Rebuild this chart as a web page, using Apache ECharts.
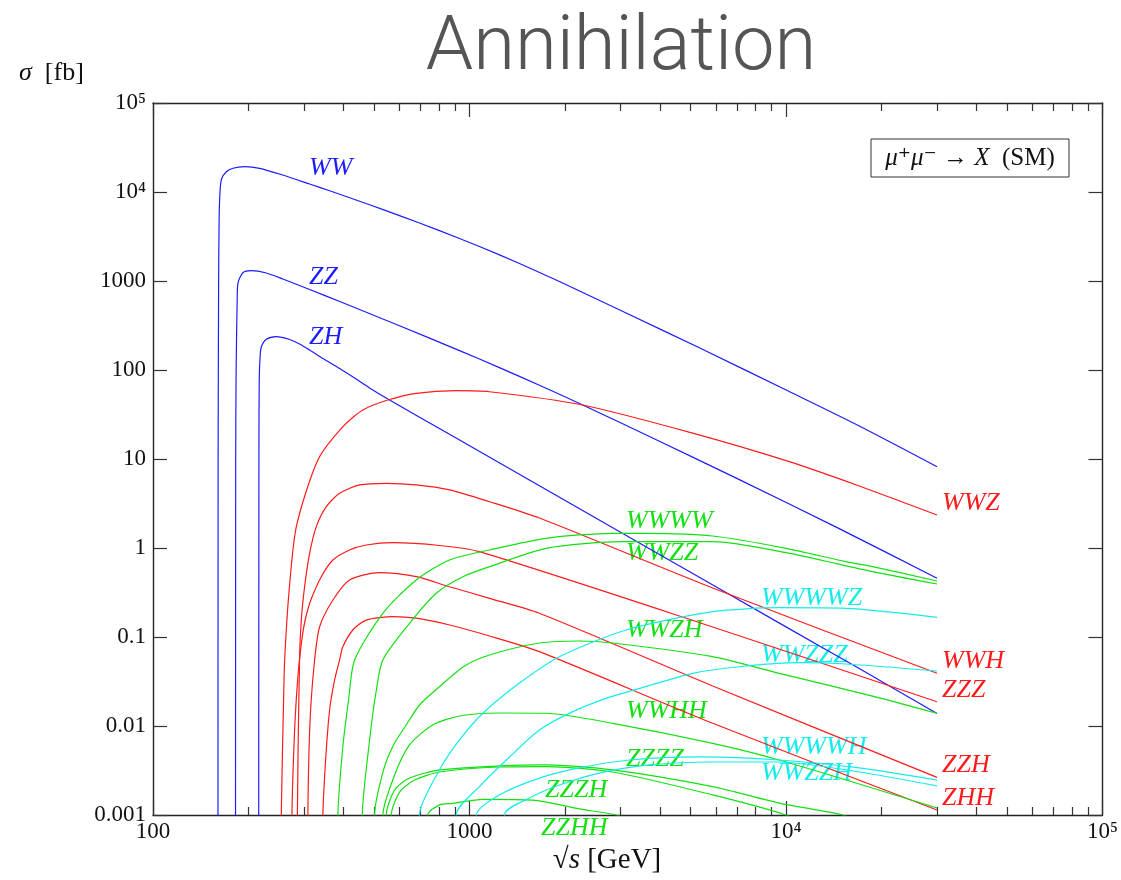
<!DOCTYPE html>
<html>
<head>
<meta charset="utf-8">
<script src="https://cdn.jsdelivr.net/npm/echarts@6/dist/echarts.min.js"></script>
<style>
  html, body { margin: 0; padding: 0; background: #ffffff; }
  #chart { width: 1121px; height: 880px; }
</style>
</head>
<body>
<div id="chart"></div>
<script>
// Cross sections sigma [fb] versus sqrt(s) [GeV] for mu+ mu- -> X in the Standard Model.
// Each curve: [sqrt(s), sigma]

// two-boson final states
const WW = [[160.4,1e-5],[160.6,10],[161.2,1000],[161.8,5000],[162.8,10000],[164.6,14000],[170.5,16900],[178.9,18500],[194.8,19250],[217.3,18460],[256.7,15520],[312.5,12300],[361.4,10320],[397.2,9182],[483.4,7180],[601,5429],[803.8,3684],[1075,2441],[1439,1572],[1924,987],[3125,437],[5323,177.6],[10240,57.3],[17040,23.5],[30000,8.2]];
const ZZ = [[182.2,1e-5],[182.5,10],[183.1,100],[184.5,612],[185.5,948],[192.4,1240],[204.5,1306],[228.1,1230],[257.3,1053],[312.5,803],[398,569],[601,314],[930,165.2],[1243,106.4],[1663,67.5],[2279,40.4],[3981,15.85],[7121,5.87],[14730,1.652],[30000,0.457]];
const ZH = [[215.7,1e-5],[216.1,10],[216.6,77.2],[218,143.7],[220,182.7],[228.1,221.3],[245.3,236.7],[270.1,220.2],[290.4,196],[312.5,167.8],[344.3,134.7],[388.6,104],[433.5,81.3],[483.4,62.8],[552.1,47.2],[864.8,18.95],[1663,5.0],[3702,0.982],[10000,0.1299],[17040,0.04415],[30000,0.0138]];

// three-boson final states
const WWZ = [[252.5,1e-5],[254.3,0.001],[258.6,0.0196],[260.6,0.0551],[268.8,0.31],[283.7,1.74],[331.9,9.75],[398.1,23.1],[460.4,35.5],[552.1,46.0],[678.9,54.7],[907.8,58.5],[1157,57.0],[2279,40.4],[5071,19.5],[10240,9.33],[17040,4.97],[30000,2.35]];
const WWH = [[285.6,1e-5],[285.9,0.001],[290.4,0.0551],[294.1,0.155],[301.3,0.367],[312.5,0.872],[328.1,1.74],[352.8,2.91],[388.6,4.12],[449.5,5.11],[545.8,5.33],[678.9,5.11],[864.8,4.49],[1157,3.31],[1663,2.17],[5866,0.355],[30000,0.0391]];
const ZZZ = [[273.8,1e-5],[274.8,0.001],[280.2,0.00902],[286.4,0.0329],[292.6,0.0715],[299.1,0.126],[306.8,0.191],[317,0.274],[340.2,0.476],[370.2,0.733],[417.8,0.95],[471.8,1.08],[572.6,1.147],[803.8,1.067],[1075,0.909],[5866,0.1296],[30000,0.01875]];
const ZZH = [[307.7,1e-5],[308.6,0.001],[313.6,0.01167],[324.1,0.0551],[336.1,0.1305],[370.2,0.2604],[417.8,0.437],[519.6,0.528],[678.9,0.476],[864.8,0.367],[1157,0.272],[1663,0.1846],[5866,0.02815],[30000,0.00265]];
const ZHH = [[343.2,1e-5],[344.3,0.001],[351.1,0.00415],[361.4,0.01514],[374.8,0.0329],[388.6,0.0551],[398,0.0778],[428,0.1199],[471.8,0.155],[572.6,0.1692],[678.9,0.1626],[864.8,0.1364],[1157,0.1026],[1663,0.0684],[5866,0.01072],[30000,0.001138]];

// four-boson final states
const WWWW = [[381.6,1e-5],[383.8,0.001],[398,0.00585],[414.9,0.0196],[433.5,0.0551],[532.4,0.1846],[678.9,0.437],[864.8,0.733],[1157,0.95],[1747,1.285],[2835,1.463],[3614,1.463],[5866,1.364],[10000,0.992],[15470,0.702],[18770,0.617],[30000,0.426]];
const WWZZ = [[455.7,1e-5],[458.4,0.001],[483.5,0.00697],[505,0.0223],[532.4,0.0551],[646.5,0.1425],[785.1,0.31],[952.6,0.476],[1157,0.617],[1747,0.992],[3049,1.177],[5866,1.177],[10000,0.886],[18770,0.542],[30000,0.394]];
const WWZH = [[498.5,1e-5],[501.2,0.001],[535.1,0.00321],[575.4,0.00612],[631.1,0.01026],[695.1,0.01722],[803.8,0.02764],[964.3,0.04723],[1157,0.0628],[1663,0.0856],[2225,0.0902],[2835,0.0856],[5866,0.0601],[9526,0.0391],[18770,0.0217],[30000,0.0139]];
const WWHH = [[529.3,1e-5],[532.4,0.001],[579.9,0.00281],[646.5,0.00612],[764.2,0.01026],[929.9,0.01296],[1243,0.014],[1747,0.0139],[2835,0.01072],[5866,0.00639],[9526,0.00415],[30000,0.0012]];
const ZZZZ = [[543,1e-5],[545.8,0.001],[579.9,0.00191],[646.5,0.0026],[803.8,0.00321],[1243,0.00356],[1747,0.00365],[2835,0.00321],[5866,0.00208],[9526,0.00136],[15090,0.001],[18320,0.00077]];
const ZZZH = [[561,1e-5],[566,0.001],[601.3,0.00181],[670.7,0.00247],[803.8,0.00304],[1243,0.00346],[1747,0.00349],[2835,0.00304],[5866,0.00168],[10000,0.001],[12740,0.00068]];
const ZZHH = [[734.2,1e-5],[738.5,0.001],[803.8,0.0013],[885.6,0.00135],[1102,0.0015],[1585,0.00147],[2225,0.00117],[2906,0.001],[3702,0.00077]];

// five-boson final states
const WWWWZ = [[692.6,1e-5],[695.1,0.001],[803.8,0.00321],[929.9,0.00697],[1102,0.0139],[1439,0.0304],[1924,0.0601],[3125,0.1199],[5866,0.1925],[9526,0.2133],[15470,0.2101],[30000,0.1665]];
const WWZZZ = [[903.2,1e-5],[907.8,0.001],[1075,0.00208],[1338,0.00449],[1663,0.00902],[2120,0.01449],[2702,0.02046],[3443,0.02645],[5071,0.0391],[7121,0.04634],[11020,0.0514],[15470,0.0497],[30000,0.0415]];
const WWWWH = [[1048,1e-5],[1052,0.001],[1243,0.00168],[1663,0.0026],[2225,0.00338],[3201,0.00415],[5324,0.00449],[9526,0.00415],[17040,0.00338],[30000,0.00247]];
const WWZZH = [[1285,1e-5],[1290,0.001],[1547,0.00155],[1924,0.00217],[2573,0.00296],[3702,0.00365],[5852,0.00394],[9526,0.00394],[17040,0.00304],[30000,0.00212]];

// axis ticks and their labels
const xMajorTicks = [100, 1000, 10000, 100000];
const xMajorLabels = ['100', '1000', '10⁴', '10⁵'];
const xMinorTicks = [200, 300, 400, 500, 600, 700, 800, 900,
                     2000, 3000, 4000, 5000, 6000, 7000, 8000, 9000,
                     20000, 30000, 40000, 50000, 60000, 70000, 80000, 90000];
const yMajorTicks = [0.001, 0.01, 0.1, 1, 10, 100, 1000, 10000, 100000];
const yMajorLabels = ['0.001', '0.01', '0.1', '1', '10', '100', '1000', '10⁴', '10⁵'];

const BLUE = '#1c1cff';
const RED = '#ff1a1a';
const GREEN = '#12e012';
const CYAN = '#14ecec';
const SERIF = '"Liberation Serif", "Times New Roman", "DejaVu Serif", serif';

const curves = [
  { name: 'WW', data: WW, color: BLUE },
  { name: 'ZZ', data: ZZ, color: BLUE },
  { name: 'ZH', data: ZH, color: BLUE },
  { name: 'WWZ', data: WWZ, color: RED, endLabel: true },
  { name: 'WWH', data: WWH, color: RED, endLabel: true },
  { name: 'ZZZ', data: ZZZ, color: RED, endLabel: true },
  { name: 'ZZH', data: ZZH, color: RED, endLabel: true },
  { name: 'ZHH', data: ZHH, color: RED, endLabel: true },
  { name: 'WWWW', data: WWWW, color: GREEN },
  { name: 'WWZZ', data: WWZZ, color: GREEN },
  { name: 'WWZH', data: WWZH, color: GREEN },
  { name: 'WWHH', data: WWHH, color: GREEN },
  { name: 'ZZZZ', data: ZZZZ, color: GREEN },
  { name: 'ZZZH', data: ZZZH, color: GREEN },
  { name: 'ZZHH', data: ZZHH, color: GREEN },
  { name: 'WWWWZ', data: WWWWZ, color: CYAN },
  { name: 'WWZZZ', data: WWZZZ, color: CYAN },
  { name: 'WWWWH', data: WWWWH, color: CYAN },
  { name: 'WWZZH', data: WWZZH, color: CYAN }
];

// in-plot process names (left edge, vertical centre)
const nameTags = [
  { text: 'WW', color: BLUE, x: 309, y: 168 },
  { text: 'ZZ', color: BLUE, x: 309, y: 277 },
  { text: 'ZH', color: BLUE, x: 309, y: 337 },
  { text: 'WWWW', color: GREEN, x: 626, y: 521 },
  { text: 'WWZZ', color: GREEN, x: 626, y: 553 },
  { text: 'WWZH', color: GREEN, x: 626, y: 630 },
  { text: 'WWHH', color: GREEN, x: 626, y: 711 },
  { text: 'ZZZZ', color: GREEN, x: 626, y: 759 },
  { text: 'ZZZH', color: GREEN, x: 545, y: 790 },
  { text: 'ZZHH', color: GREEN, x: 541, y: 828 },
  { text: 'WWWWZ', color: CYAN, x: 761, y: 598 },
  { text: 'WWZZZ', color: CYAN, x: 761, y: 655 },
  { text: 'WWWWH', color: CYAN, x: 761, y: 747 },
  { text: 'WWZZH', color: CYAN, x: 761, y: 773 }
];

function tickFormatter(ticks, labels) {
  return function (v) {
    for (let i = 0; i < ticks.length; i++) {
      if (Math.abs(Math.log10(v) - Math.log10(ticks[i])) < 1e-3) return labels[i];
    }
    return '';
  };
}

const frameLine = { color: '#222', width: 1.4 };
const tickLine = { color: '#333', width: 1.2 };
const tickFont = { fontFamily: SERIF, fontSize: 23, color: '#111' };

function logAxis(base, extra) {
  const ax = Object.assign({
    type: 'log', logBase: 10, gridIndex: 0,
    splitLine: { show: false },
    axisLine: { show: false },
    axisTick: { show: false },
    axisLabel: { show: false },
    axisPointer: { show: false }
  }, base);
  return Object.assign(ax, extra);
}

const X = { min: 100, max: 100000 };
const Y = { min: 0.001, max: 100000 };

const xAxes = [
  logAxis(X, {
    position: 'bottom',
    axisLine: { show: true, onZero: false, lineStyle: frameLine },
    axisTick: { show: true, inside: true, length: 14, customValues: xMajorTicks, lineStyle: tickLine },
    axisLabel: Object.assign({ show: true, margin: 5, customValues: xMajorTicks,
      formatter: tickFormatter(xMajorTicks, xMajorLabels) }, tickFont)
  }),
  logAxis(X, {
    position: 'bottom',
    axisTick: { show: true, inside: true, length: 8, customValues: xMinorTicks, lineStyle: tickLine }
  }),
  logAxis(X, {
    position: 'top',
    axisLine: { show: true, onZero: false, lineStyle: frameLine },
    axisTick: { show: true, inside: true, length: 14, customValues: xMajorTicks, lineStyle: tickLine }
  }),
  logAxis(X, {
    position: 'top',
    axisTick: { show: true, inside: true, length: 8, customValues: xMinorTicks, lineStyle: tickLine }
  })
];

const yAxes = [
  logAxis(Y, {
    position: 'left',
    axisLine: { show: true, onZero: false, lineStyle: frameLine },
    axisTick: { show: true, inside: true, length: 14, customValues: yMajorTicks, lineStyle: tickLine },
    axisLabel: Object.assign({ show: true, margin: 7, customValues: yMajorTicks,
      formatter: tickFormatter(yMajorTicks, yMajorLabels) }, tickFont)
  }),
  logAxis(Y, {
    position: 'right',
    axisLine: { show: true, onZero: false, lineStyle: frameLine },
    axisTick: { show: true, inside: true, length: 14, customValues: yMajorTicks, lineStyle: tickLine }
  })
];

const series = curves.map(function (c) {
  const s = {
    name: c.name,
    type: 'line',
    xAxisIndex: 0,
    yAxisIndex: 0,
    data: c.data,
    showSymbol: false,
    symbol: 'none',
    smooth: 0.25,
    clip: true,
    silent: true,
    lineStyle: { color: c.color, width: 1.2 },
    itemStyle: { color: c.color },
    emphasis: { disabled: true }
  };
  if (c.endLabel) {
    s.endLabel = {
      show: true,
      formatter: c.name,
      distance: 5,
      offset: [0, -12],
      color: c.color,
      fontFamily: SERIF,
      fontStyle: 'italic',
      fontSize: 26
    };
  }
  return s;
});

const graphics = nameTags.map(function (t) {
  return {
    type: 'text', x: t.x, y: t.y, silent: true,
    style: {
      text: t.text, fill: t.color,
      fontFamily: SERIF, fontStyle: 'italic', fontSize: 26,
      align: 'left', verticalAlign: 'middle',
      textAlign: 'left', textVerticalAlign: 'middle'
    }
  };
});

// title
graphics.push({
  type: 'text', x: 621, y: 50, silent: true,
  style: {
    text: 'Annihilation', fill: '#555555',
    fontFamily: 'Roboto, "Open Sans", sans-serif', fontWeight: 300, fontSize: 76,
    align: 'center', verticalAlign: 'middle', textAlign: 'center', textVerticalAlign: 'middle'
  }
});

// y-axis quantity
graphics.push({
  type: 'text', x: 19, y: 73, silent: true,
  style: {
    text: '{i|σ}  [fb]', fill: '#111',
    fontFamily: SERIF, fontSize: 26,
    align: 'left', verticalAlign: 'middle', textAlign: 'left', textVerticalAlign: 'middle',
    rich: { i: { fontFamily: SERIF, fontStyle: 'italic', fontSize: 26, fill: '#111', color: '#111' } }
  }
});

// x-axis quantity
graphics.push({
  type: 'text', x: 607, y: 860, silent: true,
  style: {
    text: '√{i|s} [GeV]', fill: '#111',
    fontFamily: SERIF, fontSize: 29,
    align: 'center', verticalAlign: 'middle', textAlign: 'center', textVerticalAlign: 'middle',
    rich: { i: { fontFamily: SERIF, fontStyle: 'italic', fontSize: 29, fill: '#111', color: '#111' } }
  }
});

// process box
graphics.push({
  type: 'rect', silent: true,
  shape: { x: 871, y: 139, width: 198, height: 38 },
  style: { fill: '#ffffff', stroke: '#333', lineWidth: 1 }
});
graphics.push({
  type: 'text', x: 970, y: 158, silent: true,
  style: {
    text: '{i|μ}⁺{i|μ}⁻ → {i|X}  (SM)', fill: '#111',
    fontFamily: SERIF, fontSize: 25,
    align: 'center', verticalAlign: 'middle', textAlign: 'center', textVerticalAlign: 'middle',
    rich: { i: { fontFamily: SERIF, fontStyle: 'italic', fontSize: 25, fill: '#111', color: '#111' } }
  }
});

const chart = echarts.init(document.getElementById('chart'), null, { renderer: 'canvas' });
chart.setOption({
  animation: false,
  backgroundColor: '#ffffff',
  grid: { left: 153, right: 18, top: 103, bottom: 65, containLabel: false },
  xAxis: xAxes,
  yAxis: yAxes,
  series: series,
  graphic: graphics
});
</script>
</body>
</html>
